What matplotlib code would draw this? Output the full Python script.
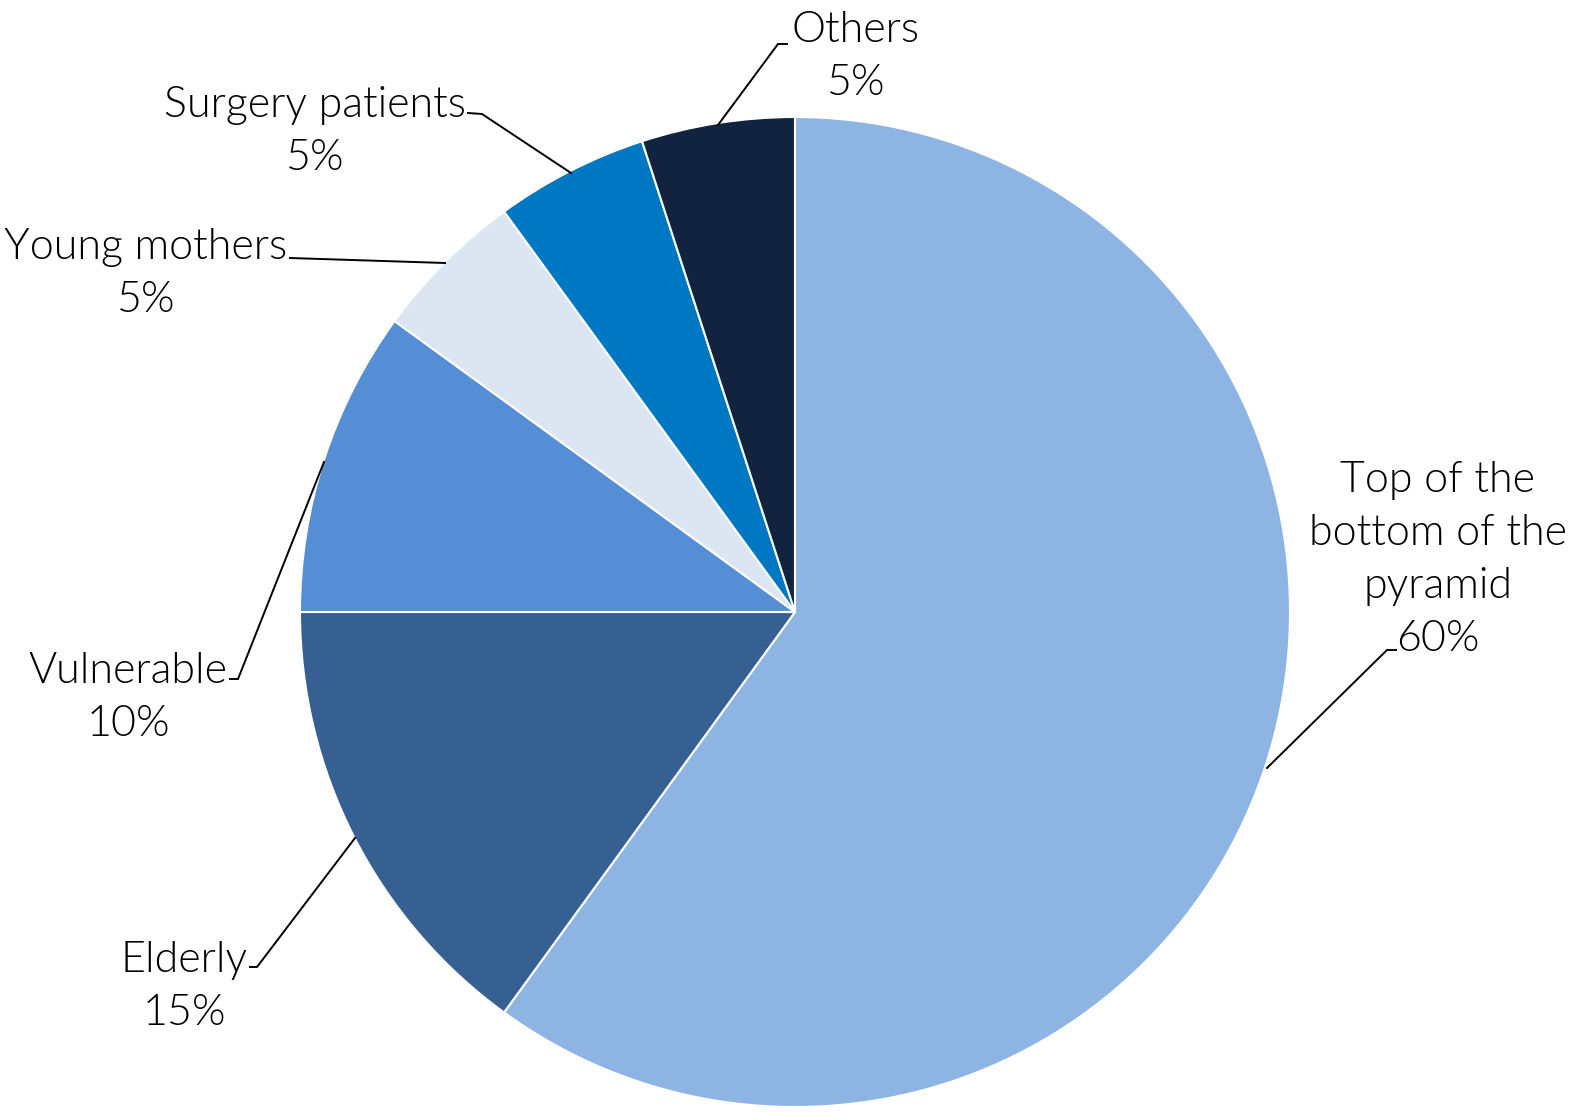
import matplotlib
matplotlib.use("Agg")
import matplotlib.pyplot as plt

# Segment shares, listed clockwise from 12 o'clock
labels = ["Top of the\nbottom of the\npyramid", "Elderly", "Vulnerable",
          "Young mothers", "Surgery patients", "Others"]
shares = [60, 15, 10, 5, 5, 5]
colors = ["#8EB4E3", "#376092", "#558ED5", "#DCE6F2", "#0077C2", "#12233F"]

W, H = 1574, 1113
fig = plt.figure(figsize=(W / 100, H / 100), dpi=100)
ax = fig.add_axes([0, 0, 1, 1])

cx, cy, r = 795, H - 612, 495
ax.pie(shares, colors=colors, startangle=90, counterclock=False,
       center=(cx, cy), radius=r, frame=True,
       wedgeprops=dict(edgecolor="white", linewidth=1.5))
ax.set_xlim(0, W)
ax.set_ylim(0, H)
ax.axis("off")

# Label block centres and leader-line routes (pixel coordinates, y from top)
label_pos = [(1438, 560), (184, 987), (128, 698), (146, 274), (315, 132), (856, 57)]
leaders = [
    [(1267, 768), (1387, 650), (1396, 650)],
    [(355, 838), (257, 967), (250, 967)],
    [(324, 462), (238, 679), (230, 679)],
    [(445, 263), (290, 258)],
    [(571, 173), (482, 114), (468, 113)],
    [(718, 125), (778, 44), (787, 44)],
]

font = dict(family=["Lato", "DejaVu Sans"], fontweight=300, fontsize=31)
for lab, val, (lx, ly), route in zip(labels, shares, label_pos, leaders):
    ax.text(lx, H - ly, f"{lab}\n{val}%", ha="center", va="center",
            multialignment="center", linespacing=1.45, color="black", **font)
    xs = [p[0] for p in route]
    ys = [H - p[1] for p in route]
    ax.plot(xs, ys, color="black", lw=1.4, solid_joinstyle="miter")

fig.savefig("out.png", dpi=100, facecolor="white")
